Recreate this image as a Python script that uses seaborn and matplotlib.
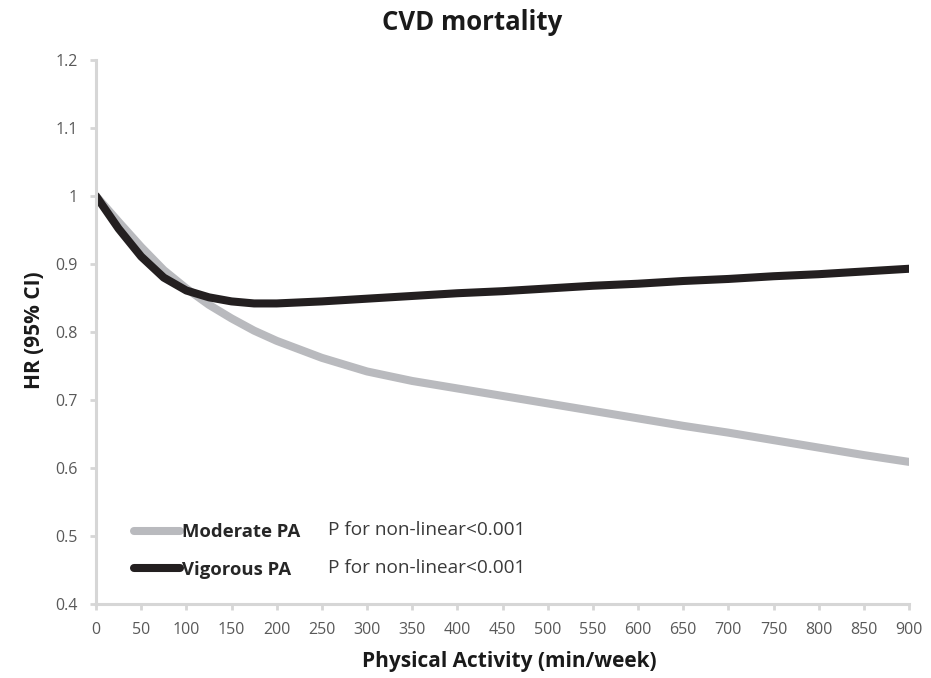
import matplotlib
matplotlib.use("Agg")
import matplotlib.pyplot as plt
import seaborn as sns
import pandas as pd
from matplotlib.lines import Line2D

# ---- data ----
pa_minutes = [0, 25, 50, 75, 100, 125, 150, 175, 200, 250, 300, 350, 400,
              450, 500, 550, 600, 650, 700, 750, 800, 850, 900]
hr_moderate = [1.000, 0.962, 0.925, 0.891, 0.864, 0.840, 0.820, 0.802, 0.787,
               0.762, 0.742, 0.728, 0.717, 0.706, 0.695, 0.684, 0.673, 0.662,
               0.652, 0.641, 0.630, 0.619, 0.609]
hr_vigorous = [1.000, 0.952, 0.911, 0.880, 0.861, 0.851, 0.845, 0.842, 0.842,
               0.845, 0.849, 0.853, 0.857, 0.860, 0.864, 0.868, 0.871, 0.875,
               0.878, 0.882, 0.885, 0.889, 0.893]
series_names = ["Moderate PA", "Vigorous PA"]
p_texts = ["P for non-linear<0.001", "P for non-linear<0.001"]
x_ticks = list(range(0, 901, 50))
y_ticks = [0.4, 0.5, 0.6, 0.7, 0.8, 0.9, 1.0, 1.1, 1.2]
y_ticklabels = ["0.4", "0.5", "0.6", "0.7", "0.8", "0.9", "1", "1.1", "1.2"]

df = pd.DataFrame({
    "x": pa_minutes * 2,
    "hr": hr_moderate + hr_vigorous,
    "series": [series_names[0]] * len(pa_minutes) + [series_names[1]] * len(pa_minutes),
})

sns.set_theme(style="white")
plt.rcParams["font.family"] = ["Open Sans", "DejaVu Sans"]

colors = {"Moderate PA": "#b9babe", "Vigorous PA": "#231f20"}

fig = plt.figure(figsize=(9.31, 6.78), dpi=100)
ax = fig.add_axes([96 / 931, 1 - 604 / 678, (909 - 96) / 931, (604 - 60) / 678])

sns.lineplot(data=df, x="x", y="hr", hue="series", palette=colors, ax=ax,
             linewidth=5.8, legend=False, sort=False)
for ln in ax.get_lines():
    ln.set_solid_capstyle("round")
    ln.set_solid_joinstyle("round")

ax.set_xlim(0, 900)
ax.set_ylim(0.4, 1.2)
ax.set_xticks(x_ticks)
ax.set_yticks(y_ticks)
ax.set_yticklabels(y_ticklabels)
ax.set_xlabel("")
ax.set_ylabel("")

for side in ["top", "right"]:
    ax.spines[side].set_visible(False)
for side in ["left", "bottom"]:
    ax.spines[side].set_color("#d6d6d6")
    ax.spines[side].set_linewidth(2.2)

ax.tick_params(axis="both", which="major", direction="out", length=4, width=2,
               color="#d6d6d6", labelcolor="#595959", labelsize=11.5)
ax.tick_params(axis="y", pad=9)
ax.tick_params(axis="x", pad=9)
ax.tick_params(left=True, bottom=True)

fig.text(472 / 931, 1 - 22 / 678, "CVD mortality", ha="center", va="center",
         fontsize=18.5, fontweight="bold", color="#1a1a1a")
fig.text(509 / 931, 1 - 662 / 678, "Physical Activity (min/week)", ha="center",
         va="center", fontsize=15, fontweight="bold", color="#1a1a1a")
fig.text(35 / 931, 1 - 330 / 678, "HR (95% CI)", ha="center", va="center",
         rotation=90, fontsize=15, fontweight="bold", color="#1a1a1a")

handles = [Line2D([0], [0], color=colors[n], lw=5.8, solid_capstyle="round")
           for n in series_names]
leg = ax.legend(handles, series_names, loc="upper left",
                bbox_to_anchor=((134 - 96) / 813, (604 - 523) / 544),
                frameon=False, borderpad=0, borderaxespad=0,
                handlelength=2.5, handletextpad=0.12, labelspacing=1.08,
                prop={"weight": "bold", "size": 13.3})
for t in leg.get_texts():
    t.set_color("#262626")

for i, (txt, ypix) in enumerate(zip(p_texts, [530, 568])):
    ax.text((328 - 96) / 813, (604 - ypix) / 544, txt, transform=ax.transAxes,
            ha="left", va="center", fontsize=13.7, color="#3a3a3a")

fig.savefig("out.png", dpi=100)
